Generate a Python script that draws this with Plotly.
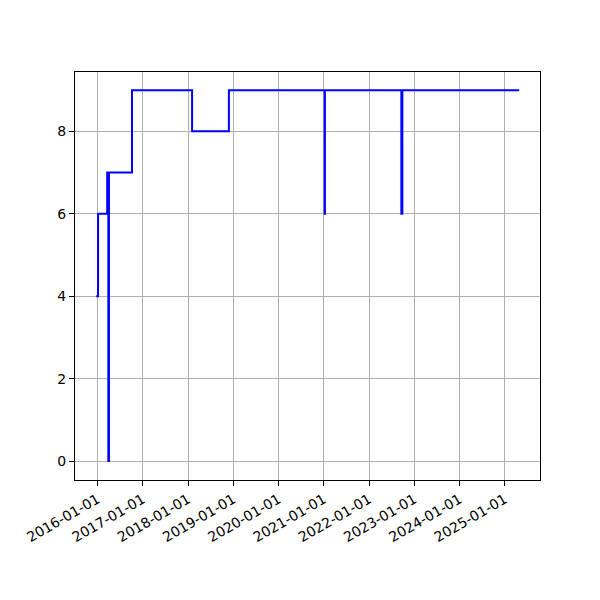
import plotly.graph_objects as go

dates = ["2015-12-22", "2016-01-06", "2016-03-20", "2016-03-29", "2016-03-31",
         "2016-04-02", "2016-04-03", "2016-10-06", "2018-02-03", "2018-11-27",
         "2021-01-08", "2021-01-10", "2022-09-19", "2022-09-22", "2022-09-24",
         "2022-09-27", "2025-04-27"]
values = [4, 6, 7, 0, 7, 0, 7, 9, 8, 9, 6, 9, 6, 9, 6, 9, 9]

tick_vals = [f"{y}-01-01" for y in range(2016, 2026)]
y_ticks = [0, 2, 4, 6, 8]

fig = go.Figure()
fig.add_trace(go.Scatter(x=dates, y=values, mode="lines", line_shape="hv",
                         line=dict(color="blue", width=2), showlegend=False))

fig.update_layout(
    width=600, height=600,
    margin=dict(l=67, r=68, t=64, b=128, autoexpand=False),
    paper_bgcolor="white", plot_bgcolor="white",
    font=dict(family="DejaVu Sans", size=14, color="black"),
    xaxis=dict(type="date", range=["2015-07-04", "2025-10-12"],
               tickvals=tick_vals, ticktext=tick_vals, tickangle=-30,
               showgrid=True, gridcolor="#b0b0b0", gridwidth=1,
               showline=True, linecolor="black", linewidth=1, mirror=True,
               ticks="outside", ticklen=5, tickcolor="black", zeroline=False,
               automargin=False),
    yaxis=dict(range=[-0.46, 9.44], tickvals=y_ticks,
               showgrid=True, gridcolor="#b0b0b0", gridwidth=1,
               showline=True, linecolor="black", linewidth=1, mirror=True,
               ticks="outside", ticklen=5, tickcolor="black", zeroline=False,
               automargin=False),
)

fig.write_html("out.html")
